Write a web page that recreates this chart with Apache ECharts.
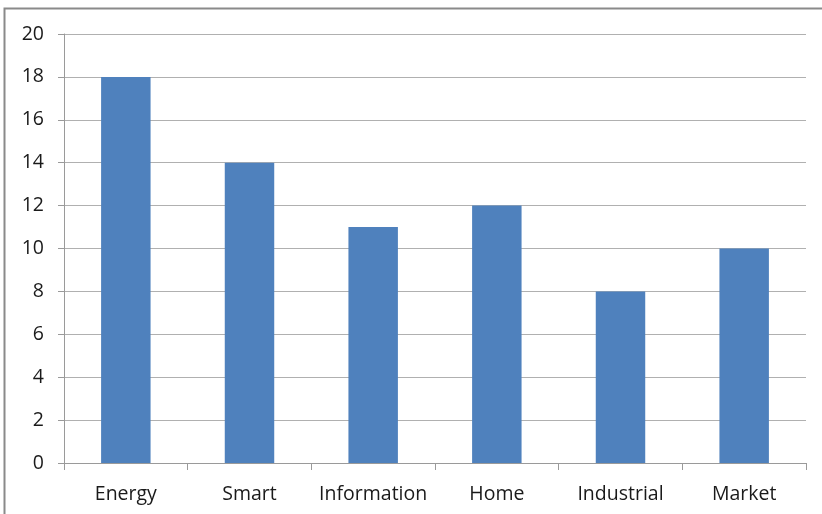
<!DOCTYPE html>
<html><head><meta charset="utf-8">
<script src="https://cdn.jsdelivr.net/npm/echarts@6/dist/echarts.min.js"></script>
<style>html,body{margin:0;padding:0;background:#fff}#c{width:822px;height:514px}</style>
</head><body><div id="c"></div>
<script>
const categories = ['Energy','Smart','Information','Home','Industrial','Market'];
const values = [18,14,11,12,8,10];
const yMin = 0, yMax = 20, yStep = 2;

const chart = echarts.init(document.getElementById('c'), null, {renderer:'canvas'});
const font = 'Open Sans, sans-serif';
chart.setOption({
  animation:false,
  backgroundColor:'#fff',
  graphic:[{type:'rect',shape:{x:4.5,y:8.5,width:900,height:600},style:{fill:'none',stroke:'#8a8a8a',lineWidth:2}}],
  grid:{left:64,right:16,top:34,bottom:51,containLabel:false},
  xAxis:{type:'category',data:categories,
    axisLine:{lineStyle:{color:'#9a9a9a',width:1}},
    axisTick:{show:true,length:7,lineStyle:{color:'#9a9a9a'}},
    axisLabel:{color:'#1a1a1a',fontSize:19.5,fontFamily:font,margin:21,interval:0}},
  yAxis:{type:'value',min:yMin,max:yMax,interval:yStep,
    axisLine:{show:true,lineStyle:{color:'#9a9a9a'}},
    axisTick:{show:true,length:6,lineStyle:{color:'#9a9a9a'}},
    splitLine:{lineStyle:{color:'#b0b0b0',width:1}},
    axisLabel:{color:'#1a1a1a',fontSize:19.5,fontFamily:font,margin:20}},
  series:[{type:'bar',data:values,barWidth:'40%',itemStyle:{color:'#4f81bd'}}]
});
</script></body></html>
